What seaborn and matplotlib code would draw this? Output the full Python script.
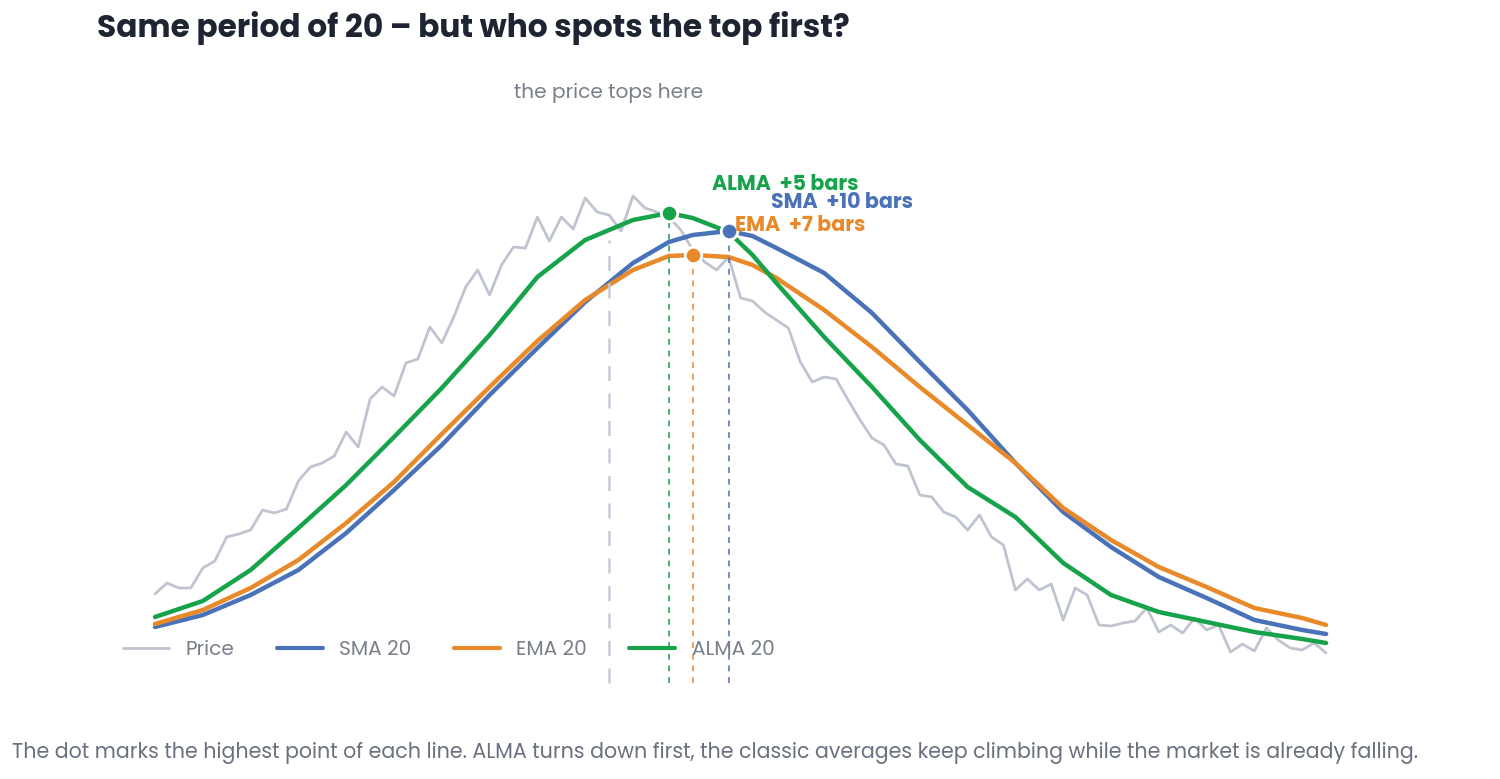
import matplotlib.pyplot as plt
import seaborn as sns
import pandas as pd
from matplotlib.lines import Line2D

# price, one value per bar
price = [106, 117, 112, 112, 132, 139, 163, 166, 170, 190, 187, 191, 219, 233, 237, 244, 268, 253, 301, 313,
         304, 337, 341, 373, 357, 383, 413, 430, 405, 435, 453, 452, 483, 459, 483, 471, 502, 488, 485, 469,
         504, 492, 488, 483, 470, 450, 438, 430, 443, 402, 399, 388, 380, 372, 338, 318, 323, 321, 300, 280,
         262, 255, 236, 234, 205, 203, 188, 183, 170, 185, 163, 155, 110, 121, 110, 116, 80, 112, 105, 75,
         74, 77, 79, 92, 68, 75, 67, 82, 70, 75, 48, 56, 49, 72, 60, 52, 50, 57, 47]

# moving averages read at these bars
ma_bars = [0, 4, 8, 12, 16, 20, 24, 28, 32, 36, 40, 43, 45, 48, 50, 52, 56, 60, 64, 68, 72, 76, 80, 84, 88, 92, 96, 98]
sma = [73, 85, 105, 130, 167, 210, 255, 305, 352, 398, 437, 458, 465, 469, 464, 452, 427, 387, 338, 290,
       237, 188, 153, 123, 102, 80, 70, 66]
ema = [76, 90, 112, 140, 177, 218, 266, 313, 359, 400, 430, 444, 445, 443, 435, 422, 390, 353, 313, 275,
       237, 192, 160, 133, 113, 92, 82, 75]
alma = [83, 99, 130, 172, 215, 263, 312, 365, 423, 460, 480, 487, 482, 468, 445, 417, 363, 313, 260, 213,
        183, 137, 105, 88, 78, 68, 61, 57]

price_top = 38
labels = ["ALMA  +5 bars", "SMA  +10 bars", "EMA  +7 bars"]

C_PRICE, C_SMA, C_EMA, C_ALMA = "#bfc4d0", "#4a72b8", "#e8892a", "#16a34a"

sns.set_theme(style="white")
plt.rcParams['font.family'] = ['Poppins', 'Inter', 'DejaVu Sans']

fig = plt.figure(figsize=(15, 7.79), dpi=100)
ax = fig.add_axes([0, 0, 1, 1])
px = 11.95
ax.set_xlim(-155 / px, (1500 - 155) / px)
ax.set_ylim(700 - 779, 700)
ax.axis("off")

sns.lineplot(x=range(len(price)), y=price, ax=ax, color=C_PRICE, lw=2, legend=False)
ma = pd.DataFrame({"bar": ma_bars, "SMA 20": sma, "EMA 20": ema, "ALMA 20": alma})
for name, col in [("SMA 20", C_SMA), ("EMA 20", C_EMA), ("ALMA 20", C_ALMA)]:
    sns.lineplot(data=ma, x="bar", y=name, ax=ax, color=col, lw=3.2, legend=False)

ybot = 700 - 683
ax.vlines(price_top, ybot, 700 - 240, color="#c8ccd6", lw=1.8, ls=(0, (6, 5)))
for series, col in [(alma, C_ALMA), (ema, C_EMA), (sma, C_SMA)]:
    i = series.index(max(series))
    b = ma_bars[i]
    ax.vlines(b, ybot, series[i], color=col, lw=1.4, ls=(0, (3, 3)), alpha=0.8)
    ax.scatter([b], [series[i]], s=140, color=col, edgecolor="white", lw=2, zorder=5)

for (txt, col, x, y) in [(labels[0], C_ALMA, 712, 185), (labels[1], C_SMA, 771, 203), (labels[2], C_EMA, 735, 226)]:
    fig.text(x / 1500, 1 - y / 779, txt, color=col, fontsize=14.8, fontweight="bold", va="center", ha="left")

fig.text(97 / 1500, 1 - 28 / 779, "Same period of 20 – but who spots the top first?", fontsize=22.5,
         fontweight="bold", color="#1f2433", va="center")
fig.text(609 / 1500, 1 - 93 / 779, "the price tops here", fontsize=14.5, color="#7a7f8c", ha="center", va="center")
fig.text(12 / 1500, 1 - 753 / 779,
         "The dot marks the highest point of each line. ALMA turns down first, the classic averages keep climbing "
         "while the market is already falling.", fontsize=14.8, color="#6b7080", va="center")

handles = [Line2D([], [], color=c, lw=3 if c != C_PRICE else 2) for c in [C_PRICE, C_SMA, C_EMA, C_ALMA]]
leg = fig.legend(handles, ["Price", "SMA 20", "EMA 20", "ALMA 20"], loc="center left", ncol=4,
                 bbox_to_anchor=(105 / 1500, 1 - 650 / 779), frameon=False, fontsize=14.5,
                 handlelength=2.3, handletextpad=0.8, columnspacing=2.1)
for t in leg.get_texts():
    t.set_color("#7a7f8c")

fig.savefig("out.png", dpi=100)
